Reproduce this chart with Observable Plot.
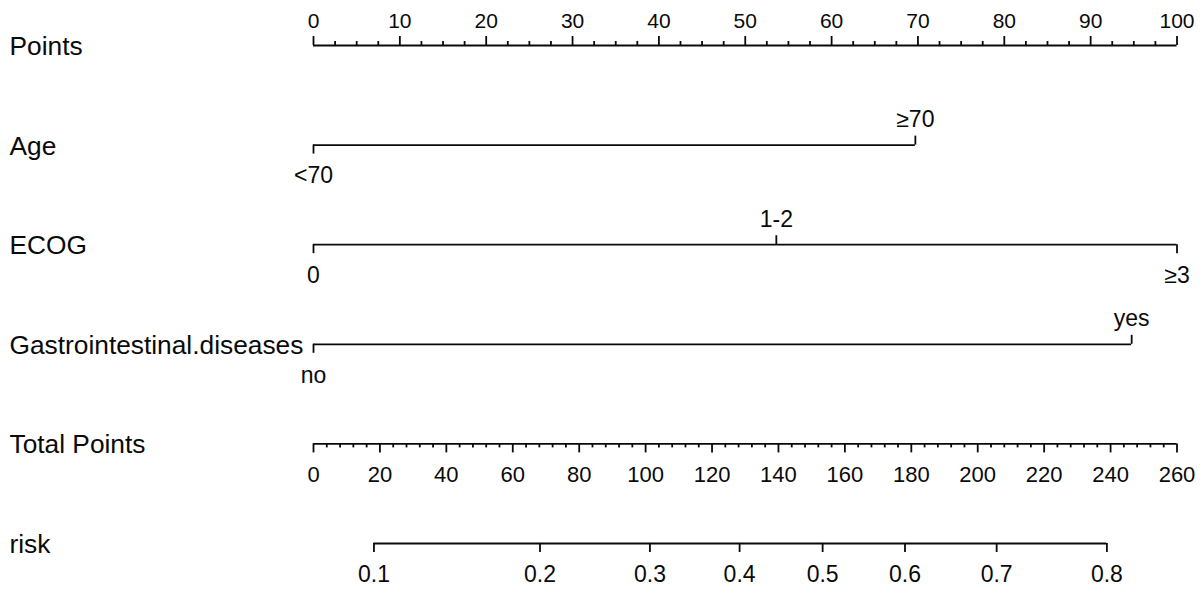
<!DOCTYPE html>
<html><head><meta charset="utf-8">
<script src="https://cdn.jsdelivr.net/npm/d3@7"></script>
<script src="https://cdn.jsdelivr.net/npm/@observablehq/plot@0.6"></script>
<style>html,body{margin:0;padding:0;background:#fff}</style>
</head><body><div id="chart"></div>
<script>
// ---- data ----
const rowNames = ["Points", "Age", "ECOG", "Gastrointestinal.diseases", "Total Points", "risk"];

const pointsTicks = [0, 10, 20, 30, 40, 50, 60, 70, 80, 90, 100];
const pointsMinorStep = 2.5;

const ageLevels = ["<70", "≥70"];
const ageScores = [0, 69.7];

const ecogLevels = ["0", "1-2", "≥3"];
const ecogScores = [0, 53.6, 100];

const giLevels = ["no", "yes"];
const giScores = [0, 94.75];

const totalTicks = [0, 20, 40, 60, 80, 100, 120, 140, 160, 180, 200, 220, 240, 260];
const totalMax = 260;
const totalMinorStep = 4;

const riskTicks = ["0.1", "0.2", "0.3", "0.4", "0.5", "0.6", "0.7", "0.8"];
const riskTotalPoints = [18.2, 68.2, 101.3, 128.3, 153.3, 178.1, 205.7, 238.9];

// ---- build tables ----
const rowPx = 99.6;               // pixel distance between rows
const toPts = t => t * 100 / totalMax; // total points -> points scale
const row = name => rowNames.indexOf(name);

const segs = [
  {r: row("Points"), x1: 0, x2: 100},
  {r: row("Age"), x1: ageScores[0], x2: ageScores[ageScores.length - 1]},
  {r: row("ECOG"), x1: ecogScores[0], x2: ecogScores[ecogScores.length - 1]},
  {r: row("Gastrointestinal.diseases"), x1: giScores[0], x2: giScores[giScores.length - 1]},
  {r: row("Total Points"), x1: 0, x2: 100},
  {r: row("risk"), x1: toPts(riskTotalPoints[0]), x2: toPts(riskTotalPoints[riskTotalPoints.length - 1])}
];

const ticks = [];
const labels = [];
// Points axis (ticks up, labels above)
d3.range(0, 100 + 1e-9, pointsMinorStep).forEach(v => {
  const major = pointsTicks.includes(v);
  ticks.push({r: row("Points"), x: v, len: major ? -9 : -4});
});
pointsTicks.forEach(v => labels.push({r: row("Points"), x: v, text: String(v), side: "above", size: 21}));

// factor rows: alternate below / above
function addFactor(name, levels, scores) {
  levels.forEach((lab, i) => {
    const above = i % 2 === 1;
    ticks.push({r: row(name), x: scores[i], len: above ? -9 : 9});
    labels.push({r: row(name), x: scores[i], text: lab, side: above ? "above" : "below", size: 23});
  });
}
addFactor("Age", ageLevels, ageScores);
addFactor("ECOG", ecogLevels, ecogScores);
addFactor("Gastrointestinal.diseases", giLevels, giScores);

// Total points (ticks down, labels below)
d3.range(0, totalMax + 1e-9, totalMinorStep).forEach(v => {
  const major = totalTicks.includes(v);
  ticks.push({r: row("Total Points"), x: toPts(v), len: major ? 9 : 4});
});
totalTicks.forEach(v => labels.push({r: row("Total Points"), x: toPts(v), text: String(v), side: "below", size: 22}));

// risk
riskTicks.forEach((lab, i) => {
  ticks.push({r: row("risk"), x: toPts(riskTotalPoints[i]), len: 9});
  labels.push({r: row("risk"), x: toPts(riskTotalPoints[i]), text: lab, side: "below", size: 23});
});

const rowLabels = rowNames.map((n, i) => ({r: i, text: n}));

const above = labels.filter(d => d.side === "above");
const below = labels.filter(d => d.side === "below");

const textMarks = [];
for (const s of [21, 22, 23]) {
  textMarks.push(Plot.text(above.filter(d => d.size === s), {x: "x", y: "r", text: "text", fontSize: s, dy: -18, lineAnchor: "bottom", fill: "#0a0a0a"}));
  textMarks.push(Plot.text(below.filter(d => d.size === s), {x: "x", y: "r", text: "text", fontSize: s, dy: 22, lineAnchor: "top", fill: "#0a0a0a"}));
}

const chart = Plot.plot({
  width: 1204,
  height: 591,
  margin: 0,
  x: {domain: [0, 100], range: [313, 1176.5], axis: null},
  y: {domain: [-45 / rowPx, (591 - 45) / rowPx], range: [0, 591], axis: null},
  style: {fontFamily: "'Liberation Sans', Arial, sans-serif", background: "#fff", color: "#0a0a0a"},
  marks: [
    Plot.ruleY(segs, {y: "r", x1: "x1", x2: "x2", stroke: "#0a0a0a", strokeWidth: 1.8}),
    Plot.ruleX(ticks, {x: "x", y1: "r", y2: d => d.r + d.len / rowPx, stroke: "#0a0a0a", strokeWidth: 1.8}),
    ...textMarks,
    Plot.text(rowLabels, {y: "r", text: "text", frameAnchor: "left", dx: 9, dy: 1, textAnchor: "start", lineAnchor: "middle", fontSize: 26.3, fill: "#0a0a0a"})
  ]
});
document.getElementById("chart").appendChild(chart);
</script>
</body></html>
